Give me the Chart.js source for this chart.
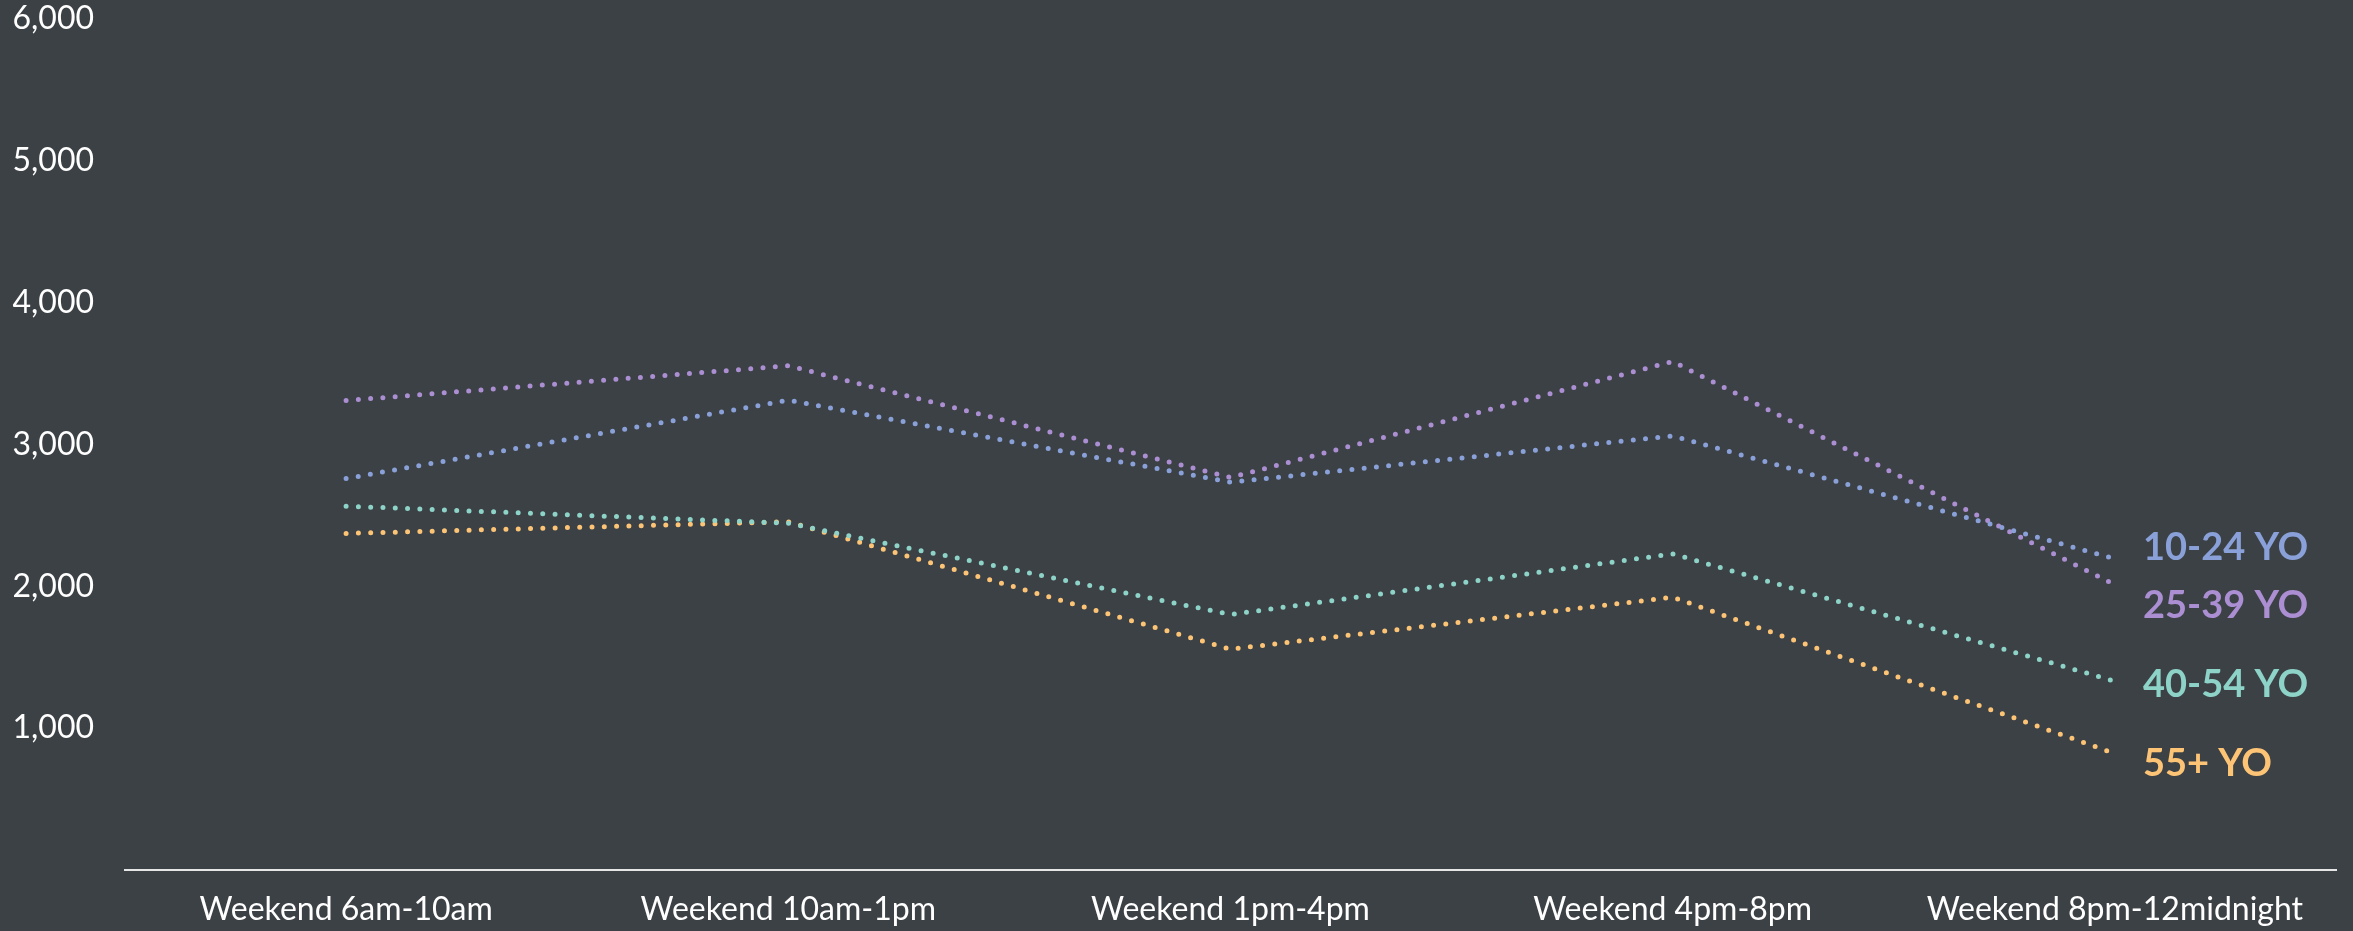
<!DOCTYPE html>
<html>
<head>
<meta charset="utf-8">
<script src="https://cdn.jsdelivr.net/npm/chart.js@4.4.1/dist/chart.umd.min.js"></script>
<style>
  html, body { margin: 0; padding: 0; background: #3c4146; }
  #wrap { width: 2353px; height: 931px; position: relative; }
</style>
</head>
<body>
<div id="wrap"><canvas id="chart"></canvas></div>
<script>
  // values
  const timeSlots = ["Weekend 6am-10am", "Weekend 10am-1pm", "Weekend 1pm-4pm", "Weekend 4pm-8pm", "Weekend 8pm-12midnight"];
  const seriesNames = ["10-24 YO", "25-39 YO", "40-54 YO", "55+ YO"];
  const age10to24 = [2760, 3312, 2734, 3061, 2194];
  const age25to39 = [3310, 3555, 2767, 3585, 2011];
  const age40to54 = [2565, 2445, 1801, 2229, 1331];
  const age55plus = [2373, 2455, 1557, 1923, 821];
  const yTicks = [0, 1000, 2000, 3000, 4000, 5000, 6000];

  const colors = ["#8aa0d8", "#ab8fd2", "#8dd3c7", "#fdc476"];
  // small vertical nudges (px) so the end labels do not collide
  const labelNudge = [-11, 21, 4, 10];

  const endLabels = {
    id: "endLabels",
    afterDatasetsDraw(chart) {
      const ctx = chart.ctx;
      ctx.save();
      ctx.font = "bold 38px Lato";
      ctx.textAlign = "left";
      ctx.textBaseline = "middle";
      chart.data.datasets.forEach((ds, i) => {
        const meta = chart.getDatasetMeta(i);
        const last = meta.data[meta.data.length - 1];
        ctx.fillStyle = colors[i];
        ctx.fillText(ds.label, last.x + 28, last.y + labelNudge[i]);
      });
      ctx.restore();
    },
  };

  function makeSet(label, data, color) {
    return {
      label: label,
      data: data,
      borderColor: color,
      backgroundColor: color,
      borderWidth: 5,
      borderDash: [0, 12.3],
      borderCapStyle: "round",
      pointRadius: 0,
      tension: 0,
      fill: false,
      clip: false,
    };
  }

  const ctx = document.getElementById("chart").getContext("2d");
  const myChart = new Chart(ctx, {
    type: "line",
    data: {
      labels: timeSlots,
      datasets: [
        makeSet(seriesNames[0], age10to24, colors[0]),
        makeSet(seriesNames[1], age25to39, colors[1]),
        makeSet(seriesNames[2], age40to54, colors[2]),
        makeSet(seriesNames[3], age55plus, colors[3]),
      ],
    },
    options: {
      responsive: true,
      maintainAspectRatio: false,
      animation: false,
      layout: { autoPadding: false, padding: { left: 0, right: 17, top: 19, bottom: 0 } },
      plugins: {
        legend: { display: false },
        tooltip: { enabled: false },
      },
      scales: {
        x: {
          offset: true,
          grid: { display: false, drawTicks: false },
          border: { display: true, color: "#e6e6e6", width: 2 },
          ticks: {
            color: "#ffffff",
            font: { family: "Lato", size: 32 },
            padding: 20,
            maxRotation: 0,
            autoSkip: false,
          },
          afterFit(scale) { scale.height = 61; },
        },
        y: {
          min: yTicks[0],
          max: yTicks[yTicks.length - 1],
          afterBuildTicks(scale) { scale.ticks = yTicks.map(v => ({ value: v })); },
          grid: { display: false, drawTicks: false },
          border: { display: false },
          ticks: {
            color: "#ffffff",
            font: { family: "Lato", size: 32 },
            padding: 31,
            callback: v => (v === 0 ? "" : v.toLocaleString("en-US")),
          },
          afterFit(scale) {
            scale.width = 125;
            scale.paddingTop = 0;
            scale.paddingBottom = 0;
          },
        },
      },
    },
    plugins: [endLabels],
  });
</script>
</body>
</html>
